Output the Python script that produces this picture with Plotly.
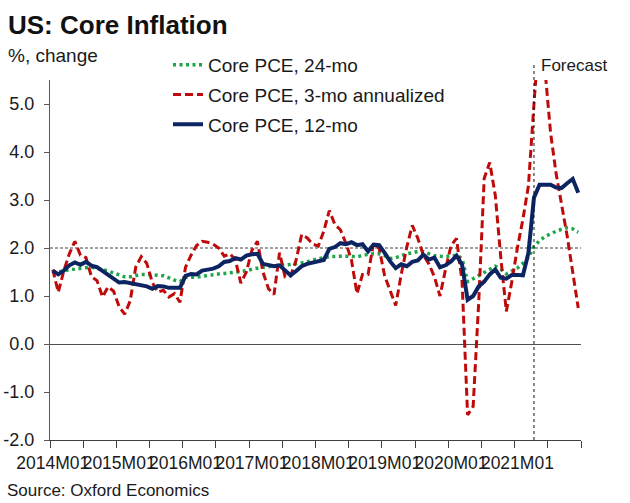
import plotly.graph_objects as go

# ---------------- data ----------------
YEARS = list(range(2014, 2022))
MONTHS = [f"{y}M{m:02d}" for y in YEARS for m in range(1, 13)]

CORE_PCE_24MO = [
    1.50, 1.50, 1.52, 1.55, 1.56, 1.58, 1.59, 1.60, 1.58, 1.55, 1.52, 1.48,
    1.44, 1.40, 1.40, 1.42, 1.45, 1.45, 1.44, 1.43, 1.42, 1.38, 1.33, 1.30,
    1.39, 1.39, 1.39, 1.41, 1.43, 1.45, 1.46, 1.47, 1.48, 1.50, 1.51, 1.53,
    1.56, 1.58, 1.60, 1.61, 1.62, 1.63, 1.64, 1.66, 1.67, 1.69, 1.71, 1.75,
    1.78, 1.80, 1.82, 1.83, 1.83, 1.83, 1.83, 1.82, 1.84, 1.87, 1.88, 1.88,
    1.84, 1.78, 1.80, 1.84, 1.88, 1.90, 1.93, 1.92, 1.88, 1.84, 1.83, 1.82,
    1.83, 1.85, 1.78, 1.30, 1.36, 1.42, 1.50, 1.56, 1.62, 1.56, 1.46, 1.52,
    1.58, 1.68, 1.80, 2.03, 2.15, 2.24, 2.30, 2.35, 2.39, 2.42, 2.40, 2.33,
]

CORE_PCE_3MO_ANN = [
    1.55, 1.08, 1.53, 1.88, 2.14, 1.85, 1.80, 1.40, 1.32, 0.98, 1.19, 1.10,
    0.78, 0.62, 0.90, 1.60, 1.82, 1.68, 1.28, 1.08, 1.12, 0.98, 1.05, 0.87,
    1.60, 1.85, 2.05, 2.14, 2.12, 2.08, 2.00, 1.83, 1.88, 1.76, 1.27, 1.50,
    1.95, 2.14, 1.50, 1.15, 1.03, 1.90, 1.40, 1.42, 1.75, 2.28, 2.21, 2.08,
    2.04, 2.35, 2.78, 2.49, 2.38, 2.10, 1.75, 1.05, 1.45, 1.45, 2.10, 2.00,
    1.42, 1.12, 0.80, 1.45, 2.02, 2.47, 2.20, 1.85, 1.67, 1.40, 1.00, 1.55,
    2.05, 2.20, 1.30, -1.48, -1.30, 0.85, 3.45, 3.78, 3.10, 1.80, 0.68, 1.30,
    2.00, 2.60, 3.30, 5.00, 6.60, 5.70, 4.40, 3.55, 2.94, 2.25, 1.50, 0.75,
]

CORE_PCE_12MO = [
    1.53, 1.45, 1.53, 1.64, 1.70, 1.65, 1.71, 1.63, 1.60, 1.52, 1.45, 1.37,
    1.28, 1.29, 1.27, 1.24, 1.24, 1.20, 1.15, 1.21, 1.20, 1.17, 1.17, 1.17,
    1.42, 1.46, 1.45, 1.53, 1.55, 1.57, 1.62, 1.71, 1.73, 1.79, 1.76, 1.84,
    1.87, 1.88, 1.67, 1.65, 1.62, 1.64, 1.52, 1.43, 1.52, 1.62, 1.67, 1.69,
    1.72, 1.75, 1.98, 2.02, 2.10, 2.08, 2.12, 2.06, 2.08, 1.93, 2.07, 2.06,
    1.90, 1.72, 1.58, 1.66, 1.62, 1.71, 1.74, 1.86, 1.76, 1.80, 1.60, 1.64,
    1.72, 1.84, 1.65, 0.92, 1.00, 1.20, 1.30, 1.45, 1.55, 1.38, 1.36, 1.44,
    1.44, 1.43, 1.90, 3.05, 3.32, 3.32, 3.32, 3.26, 3.25, 3.35, 3.44, 3.15,
]

SERIES_NAMES = ["Core PCE, 24-mo", "Core PCE, 3-mo annualized", "Core PCE, 12-mo"]
X_TICK_LABELS = [f"{y}M01" for y in YEARS]
Y_TICKS = [-2, -1, 0, 1, 2, 3, 4, 5]
Y_TICK_LABELS = ["-2.0", "-1.0", "0.0", "1.0", "2.0", "3.0", "4.0", "5.0"]
FORECAST_START = "2021M04"
REFERENCE_LEVEL = 2.0

# ---------------- figure ----------------
FONT = "Liberation Sans, Arial, sans-serif"
pos = {m: i for i, m in enumerate(MONTHS)}
x = [pos[m] for m in MONTHS]

fig = go.Figure()
fig.add_trace(go.Scatter(
    x=x, y=CORE_PCE_24MO, mode="lines", name=SERIES_NAMES[0], legendgroup="a",
    line=dict(color="#1fa64a", width=3.5, dash="3px,3.5px"),
))
fig.add_trace(go.Scatter(
    x=x, y=CORE_PCE_3MO_ANN, mode="lines", name=SERIES_NAMES[1], legendgroup="b",
    line=dict(color="#bf0a0a", width=3, dash="8px,4px"),
))
fig.add_trace(go.Scatter(
    x=x, y=CORE_PCE_12MO, mode="lines", name=SERIES_NAMES[2], legendgroup="c",
    line=dict(color="#0c2461", width=4),
))

yaxis_common = dict(
    range=[-2, 5.5], tickmode="array", tickvals=Y_TICKS, ticktext=Y_TICK_LABELS,
    ticks="outside", ticklen=5, showgrid=False, showline=True, linewidth=1,
    tickfont=dict(size=18, color="#1a1a1a"), ticklabelstandoff=6,
    automargin=False,
)

fig.update_layout(
    template="none",
    width=630, height=503,
    margin=dict(l=50, r=49, t=80, b=63, autoexpand=False),
    paper_bgcolor="white", plot_bgcolor="white",
    font=dict(family=FONT, size=18, color="#1a1a1a"),
    showlegend=True,
    legend=dict(
        x=(168 - 50) / 531, y=1 + (80 - 46) / 360, xanchor="left", yanchor="top",
        bgcolor="rgba(0,0,0,0)", font=dict(size=19, color="#1a1a1a"),
        traceorder="grouped", tracegroupgap=2, itemwidth=30,
    ),
    xaxis=dict(
        range=[-0.5, len(MONTHS) - 0.5], tickmode="array",
        tickvals=[pos[l] for l in X_TICK_LABELS], ticktext=X_TICK_LABELS,
        ticks="outside", ticklen=7, tickcolor="rgba(0,0,0,0)", tickangle=0,
        tickfont=dict(size=17.5, color="#1a1a1a"),
        showline=True, linecolor="#404040", linewidth=1,
        showgrid=False, zeroline=False, automargin=False,
        minor=dict(
            tickmode="array", tickvals=[i - 0.5 for i in range(0, len(MONTHS) + 1, 6)],
            ticks="outside", ticklen=7, tickcolor="#404040", tickwidth=1, showgrid=False,
        ),
    ),
    yaxis=dict(
        **yaxis_common, linecolor="#595959", tickcolor="#595959",
        zeroline=True, zerolinecolor="#505050", zerolinewidth=1,
    ),
    yaxis2=dict(
        **yaxis_common, overlaying="y", side="right", anchor="x",
        linecolor="#bfbfbf", tickcolor="#bfbfbf", zeroline=False,
    ),
)

# 2.0 reference line
fig.add_shape(
    type="line", xref="paper", x0=0, x1=1, yref="y", y0=REFERENCE_LEVEL, y1=REFERENCE_LEVEL,
    line=dict(color="#404040", width=1, dash="3px,2px"), layer="below",
)
# forecast divider
fig.add_shape(
    type="line", xref="x", x0=pos[FORECAST_START], x1=pos[FORECAST_START],
    yref="paper", y0=0, y1=1 + 18 / 360,
    line=dict(color="#111111", width=1, dash="3px,3px"),
)

fig.add_annotation(
    text="<b>US: Core Inflation</b>", xref="paper", yref="paper",
    x=(6 - 50) / 531, y=1 + (80 - 8) / 360, xanchor="left", yanchor="top",
    showarrow=False, font=dict(size=26, color="#111111"),
)
fig.add_annotation(
    text="%, change", xref="paper", yref="paper",
    x=(6 - 50) / 531, y=1 + (80 - 43) / 360, xanchor="left", yanchor="top",
    showarrow=False, font=dict(size=19, color="#1a1a1a"),
)
fig.add_annotation(
    text="Forecast", xref="x", yref="paper", x=pos[FORECAST_START], xshift=5,
    y=1 + (80 - 66) / 360, xanchor="left", yanchor="middle",
    showarrow=False, font=dict(size=17, color="#1a1a1a"),
)
fig.add_annotation(
    text="Source: Oxford Economics", xref="paper", yref="paper",
    x=(5 - 50) / 531, y=1 - (490 - 80) / 360, xanchor="left", yanchor="middle",
    showarrow=False, font=dict(size=17, color="#1a1a1a"),
)

fig.write_html("out.html")
